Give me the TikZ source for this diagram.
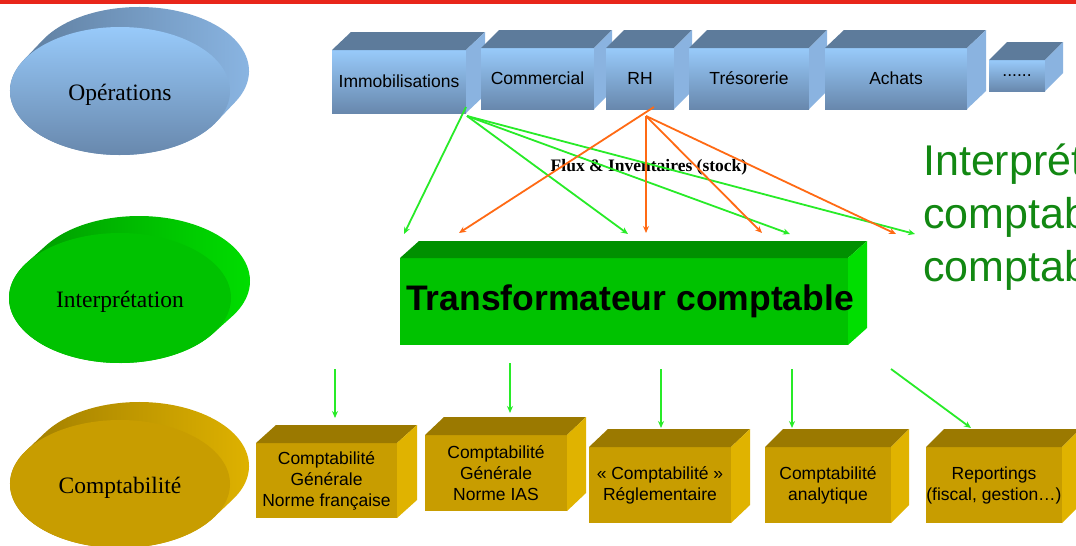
\documentclass[tikz,border=0pt]{standalone}
\usepackage{fontspec}
\setmainfont{Liberation Sans}
\newfontfamily\labelserif{Liberation Serif}
\usetikzlibrary{shapes.geometric,arrows.meta,calc}

\definecolor{topRed}{RGB}{232,38,26}
% operations (blue)
\definecolor{opFrontTop}{RGB}{152,202,250}
\definecolor{opFrontBot}{RGB}{104,136,173}
\definecolor{opTop}{RGB}{93,123,155}
\definecolor{opSide}{RGB}{138,179,224}
\definecolor{opsDark}{RGB}{90,120,152}
\definecolor{opsLight}{RGB}{140,184,230}
% interpretation (green)
\definecolor{trFront}{RGB}{0,194,0}
\definecolor{trTop}{RGB}{0,144,0}
\definecolor{trSide}{RGB}{0,222,0}
\definecolor{intDark}{RGB}{0,146,0}
\definecolor{intLight}{RGB}{0,226,0}
% accounting (gold)
\definecolor{cpFront}{RGB}{200,157,0}
\definecolor{cpTop}{RGB}{155,121,0}
\definecolor{cpSide}{RGB}{224,179,0}
\definecolor{cptDark}{RGB}{154,120,0}
\definecolor{cptLight}{RGB}{226,181,0}
% connectors and notes
\definecolor{flowGreen}{RGB}{40,235,40}
\definecolor{flowOrange}{RGB}{255,106,20}
\definecolor{noteGreen}{RGB}{18,136,18}

\tikzset{
  opface/.style={rectangle, inner sep=0pt, outer sep=0pt, top color=opFrontTop,
    bottom color=opFrontBot, font=\fontsize{17.5}{21}\selectfont, align=center},
  trface/.style={rectangle, inner sep=0pt, outer sep=0pt, fill=trFront},
  cpface/.style={rectangle, inner sep=0pt, outer sep=0pt, fill=cpFront,
    font=\fontsize{17.5}{21}\selectfont, align=center},
  opsface/.style={top color=opFrontTop, bottom color=opFrontBot},
  intface/.style={fill=trFront},
  cptface/.style={fill=cpFront},
  disclabel/.style={font=\labelserif\fontsize{23.5}{28}\selectfont, inner sep=0pt},
  flowarrow/.style={line width=1.8pt, -{Stealth[length=7pt,width=6pt]}},
  greenflow/.style={flowarrow, draw=flowGreen},
  orangeflow/.style={flowarrow, draw=flowOrange},
  note/.style={text=noteGreen, font=\fontsize{43}{53}\selectfont, anchor=base west, inner sep=0pt},
}

% extruded disc: #1 family/name, #2 centre, #3 x radius, #4 y radius,
% #5 extrusion vector, #6 tangent angle, #7 label
\newcommand\disc[7]{%
  \coordinate (#1c) at #2;
  \coordinate (#1b) at ($#2+#5$);
  \pgfmathsetmacro\angUp{#6+180}
  \shade[left color=#1Dark, middle color=#1Dark, right color=#1Light]
    ($(#1c)+(\angUp:#3pt and #4pt)$) -- ($(#1b)+(\angUp:#3pt and #4pt)$)
    arc[start angle=\angUp, end angle=#6, x radius=#3pt, y radius=#4pt]
    -- ($(#1c)+(#6:#3pt and #4pt)$)
    arc[start angle=#6, end angle=#6-180, x radius=#3pt, y radius=#4pt] -- cycle;
  \node[ellipse, inner sep=0pt, minimum width=2*#3pt, minimum height=2*#4pt, #1face] (#1) at (#1c) {};
  \node[disclabel] (#1label) at ($(#1c)+(0,4)$) {#7};
}

% cuboid: #1 family, #2 name, #3 centre, #4 size, #5 depth vector, #6 text
\newcommand\cuboid[6]{%
  \node[#1face, #4] (#2) at #3 {#6};
  \fill[#1Top] (#2.north west) -- ++#5 -- ($(#2.north east)+#5$) -- (#2.north east) -- cycle;
  \fill[#1Side] (#2.north east) -- ++#5 -- ($(#2.south east)+#5$) -- (#2.south east) -- cycle;
}

\begin{document}
\begin{tikzpicture}[x=1pt, y=-1pt]
\useasboundingbox (0,0) rectangle (1076,546);
\fill[white] (0,0) rectangle (1076,546);
\fill[topRed] (0,0) rectangle (1076,4);

% layer discs
\disc{ops}{(120,91)}{110}{64}{(19,-20)}{-28.9}{Opérations}
\disc{int}{(120,298)}{111}{65}{(19,-17)}{-33.2}{Interprétation}
\disc{cpt}{(120,484)}{110}{64}{(19,-18)}{-31.5}{Comptabilité}

% operational sources
\cuboid{op}{immo}{(399,81.5)}{minimum width=134pt, minimum height=63pt}{(19,-18)}{Immobilisations}
\cuboid{op}{comm}{(537.5,78.5)}{minimum width=113pt, minimum height=61pt}{(18,-18)}{Commercial}
\cuboid{op}{rh}{(640,78.5)}{minimum width=68pt, minimum height=61pt}{(18,-18)}{RH}
\cuboid{op}{treso}{(749,78.5)}{minimum width=120pt, minimum height=61pt}{(18,-18)}{Trésorerie}
\cuboid{op}{achats}{(896,78.5)}{minimum width=142pt, minimum height=61pt}{(19,-18)}{Achats}
\cuboid{op}{etc}{(1017,75.5)}{minimum width=56pt, minimum height=31pt}{(18,-18)}{......}

% transformer
\cuboid{tr}{transfo}{(624,301.5)}{minimum width=448pt, minimum height=87pt}{(19,-17)}{}
\node[font=\bfseries\fontsize{35.5}{40}\selectfont, inner sep=0pt] (transfolabel) at (630,301) {Transformateur comptable};

% accounting outputs
\cuboid{cp}{cgfr}{(326.5,480.5)}{minimum width=141pt, minimum height=75pt}{(20,-18)}{Comptabilité\\Générale\\Norme française}
\cuboid{cp}{cgias}{(496,473)}{minimum width=142pt, minimum height=76pt}{(19,-18)}{Comptabilité\\Générale\\Norme IAS}
\cuboid{cp}{regl}{(660,485)}{minimum width=142pt, minimum height=76pt}{(19,-18)}{« Comptabilité »\\Réglementaire}
\cuboid{cp}{analy}{(828,485)}{minimum width=126pt, minimum height=76pt}{(18,-18)}{Comptabilité\\analytique}
\cuboid{cp}{report}{(994,485)}{minimum width=136pt, minimum height=76pt}{(18,-18)}{Reportings\\(fiscal, gestion…)}

% connector ends
\coordinate (immoA) at (466,107);
\coordinate (immoB) at (467,116);
\coordinate (rhA) at (654,107);
\coordinate (rhB) at (646,116);
\coordinate (g1) at (404,234);
\coordinate (g2) at (628,234);
\coordinate (g3) at (790,234);
\coordinate (g4) at (915,234);
\coordinate (o1) at (459,233);
\coordinate (o2) at (646,233);
\coordinate (o3) at (762,233);
\coordinate (o4) at (896,234);
\coordinate (d1s) at (335,369);  \coordinate (d1e) at (335,418);
\coordinate (d2s) at (510,363);  \coordinate (d2e) at (510,413);
\coordinate (d3s) at (661,369);  \coordinate (d3e) at (661,428);
\coordinate (d4s) at (792,369);  \coordinate (d4e) at (792,428);
\coordinate (d5s) at (891,369);  \coordinate (d5e) at (971,428);

\node[font=\labelserif\bfseries\fontsize{17.5}{20}\selectfont, anchor=base, inner sep=0pt]
  (fluxlabel) at (649,171) {Flux \& Inventaires (stock)};

% flows from Immobilisations
\draw[greenflow] (immoA) -- (g1);
\draw[greenflow] (immoB) -- (g2);
\draw[greenflow] (immoB) -- (g3);
\draw[greenflow] (immoB) -- (g4);
% flows from RH
\draw[orangeflow] (rhA) -- (o1);
\draw[orangeflow] (rhB) -- (o2);
\draw[orangeflow] (rhB) -- (o3);
\draw[orangeflow] (rhB) -- (o4);
% outputs of the transformer
\draw[greenflow] (d1s) -- (d1e);
\draw[greenflow] (d2s) -- (d2e);
\draw[greenflow] (d3s) -- (d3e);
\draw[greenflow] (d4s) -- (d4e);
\draw[greenflow] (d5s) -- (d5e);

% side note, running off the right edge
\node[note] (note1) at (923,175) {Interprét};
\node[note] (note2) at (923,228) {comptab};
\node[note] (note3) at (923,281) {comptab};
\end{tikzpicture}
\end{document}
